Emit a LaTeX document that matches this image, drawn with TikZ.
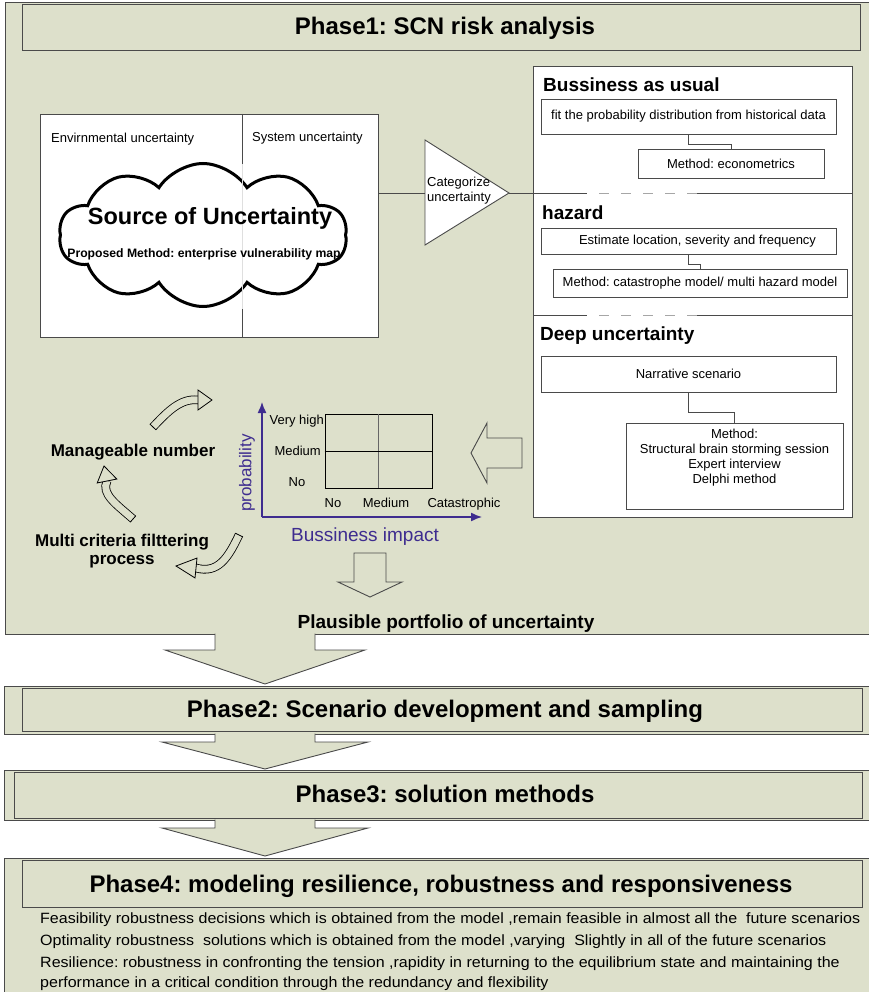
\documentclass[tikz,border=0pt]{standalone}
\usepackage{fontspec}
\setmainfont{Liberation Sans}
\newfontfamily\widesans[FakeStretch=1.075]{Liberation Sans}
\usetikzlibrary{shapes.symbols,calc,arrows.meta}
\frenchspacing

\definecolor{panel}{HTML}{DDE0CB}
\definecolor{edge}{HTML}{4A4A4A}
\definecolor{axis}{HTML}{3E2C8F}

\tikzset{
  panelbox/.style={draw=edge, fill=panel, line width=0.9pt},
  whitebox/.style={draw=edge, fill=white, line width=0.9pt, inner sep=0pt},
  stepbox/.style={draw=edge, fill=white, line width=0.9pt, inner sep=0pt,
    font=\fontsize{13}{15}\selectfont},
  thinline/.style={draw=edge, line width=0.9pt},
  hollow/.style={draw=edge, fill=panel, line width=0.9pt, line join=miter},
  band/.style={draw=black, line width=0.8pt, double=panel, double distance=7pt},
  phasefont/.style={font=\fontsize{24}{28}\selectfont\bfseries},
  headfont/.style={font=\fontsize{19}{22}\selectfont\bfseries},
  smallfont/.style={font=\fontsize{13}{15}\selectfont},
  labelfont/.style={font=\fontsize{17}{18}\selectfont\bfseries},
  bodyfont/.style={font=\widesans\fontsize{14.9}{21}\selectfont},
}

% curved block arrow: tail, control 1, control 2, head base, tip
\newcommand\bendarrow[5]{%
  \draw[band] (#1) .. controls (#2) and (#3) .. (#4);
  \draw[line width=0.8pt] ($(#1)!4.3pt!90:(#2)$) -- ($(#1)!4.3pt!-90:(#2)$);
  \filldraw[fill=panel, draw=black, line width=0.8pt, line join=miter]
    ($(#4)!10pt!90:(#5)$) -- (#5) -- ($(#4)!10pt!-90:(#5)$) -- cycle;
}

\begin{document}
\begin{tikzpicture}[x=1pt,y=-1pt]
\useasboundingbox (0,0) rectangle (868,992);

% ---------------- Phase 1 panel ----------------
\path[panelbox] (5,2) rectangle (880,634);
\path[panelbox] (22,4) rectangle (860,50);
\node[phasefont, anchor=base] (p1) at (445,35) {Phase1: SCN risk analysis};

% sources of uncertainty
\node[whitebox, minimum width=338pt, minimum height=223pt] (lbox) at (209,225.5) {};
\draw[thinline] (242,114) -- (242,337);
\node[smallfont, anchor=base west, inner sep=0] (envl) at (51,143) {Envirnmental uncertainty};
\node[smallfont, anchor=base west, inner sep=0] (sysl) at (252,142) {System uncertainty};
\node[cloud, cloud puffs=10, cloud puff arc=115, aspect=2, draw=black, fill=white,
      line width=3pt, minimum width=288pt, minimum height=143pt, inner sep=0] (src) at (203,235) {};
\draw[gray!25, line width=0.9pt] (242,164) -- (242,309);
\node[font=\fontsize{23.5}{26}\selectfont\bfseries, anchor=base, inner sep=0] (srct) at (210,225) {Source of Uncertainty};
\node[font=\fontsize{12.2}{14}\selectfont\bfseries, anchor=base, inner sep=0] (srcm) at (204,257) {Proposed Method: enterprise vulnerability map};

% categorize
\coordinate (catT) at (425,140);
\coordinate (catB) at (425,245);
\coordinate (catTip) at (509,193);
\coordinate (catW) at (425,193);
\draw[whitebox] (catT) -- (catTip) -- (catB) -- cycle;
\draw[thinline] (lbox.east |- catW) -- (catW);
\node[smallfont, anchor=base west, inner sep=0] (catl1) at (427,187) {Categorize};
\node[smallfont, anchor=base west, inner sep=0] (catl2) at (427,202) {uncertainty};

% categories panel
\node[whitebox, minimum width=319pt, minimum height=451pt] (rpanel) at (692.5,291.5) {};
\draw[thinline] (catTip) -- (rpanel.west |- catTip);
\draw[thinline] (533,193) -- (587,193);
\draw[gray!70, line width=0.9pt, dash pattern=on 10pt off 12pt, dash phase=-12pt] (587,193) -- (697,193);
\draw[thinline] (697,193) -- (852,193);
\draw[thinline] (533,315) -- (587,315);
\draw[gray!70, line width=0.9pt, dash pattern=on 10pt off 12pt, dash phase=-12pt] (587,315) -- (697,315);
\draw[thinline] (697,315) -- (852,315);

\node[headfont, anchor=base west, inner sep=0] (h1) at (543,92) {Bussiness as usual};
\node[headfont, anchor=base west, inner sep=0] (h2) at (542,219) {hazard};
\node[headfont, anchor=base west, inner sep=0] (h3) at (540,340) {Deep uncertainty};

\node[stepbox, minimum width=295pt, minimum height=35pt] (b1) at (688.5,116.5) {fit the probability distribution from historical data};
\node[stepbox, minimum width=186pt, minimum height=29pt] (b2) at (731,163.5) {Method: econometrics};
\draw[thinline] (b1.south) -- ++(0,10) -| (b2.north);

\node[stepbox, minimum width=295pt, minimum height=26pt] (b3) at (688.5,241) {\hspace*{18pt}Estimate location, severity and frequency};
\node[stepbox, minimum width=294pt, minimum height=28pt] (b4) at (700,283) {Method: catastrophe model/ multi hazard model};
\draw[thinline] (b3.south) -- ++(0,10) -| (b4.north);

\node[stepbox, minimum width=295pt, minimum height=36pt] (b5) at (688.5,374) {Narrative scenario};
\node[stepbox, minimum width=217pt, minimum height=86pt] (b6) at (734.5,466) {};
\node[smallfont, anchor=north, inner sep=0, align=center] (b6t) at (734.5,429)
  {Method:\\Structural brain storming session\\Expert interview\\Delphi method};
\draw[thinline] (b5.south) -- ++(0,20) -| (b6.north);

% arrow from categories to the matrix
\path[hollow] (522,438) -- (487,438) -- (487,423) -- (471,453) -- (487,483) -- (487,468) -- (522,468) -- cycle;

% probability / impact matrix
\coordinate (org) at (262,517);
\draw[axis, line width=1.4pt, -{Latex[length=11pt,width=9pt]}] (org) -- (262,402);
\draw[axis, line width=1.4pt, -{Latex[length=11pt,width=9pt]}] (org) -- (482,517);
\node[draw=black, line width=0.9pt, minimum width=107pt, minimum height=74pt, inner sep=0] (grid) at (378.5,451) {};
\draw[draw=gray!80!black, line width=1.1pt] (grid.north) -- (grid.south);
\draw[line width=0.9pt] (grid.west) -- (grid.east);
\node[smallfont, anchor=base east, inner sep=0] (vh) at (324,424) {Very high};
\node[smallfont, anchor=base east, inner sep=0] (vm) at (321,455) {Medium};
\node[smallfont, anchor=base, inner sep=0] (vn) at (297,486) {No};
\node[smallfont, anchor=base, inner sep=0] (hn) at (333,507) {No};
\node[smallfont, anchor=base, inner sep=0] (hm) at (386,507) {Medium};
\node[smallfont, anchor=base, inner sep=0] (hc) at (464,507) {Catastrophic};
\node[font=\fontsize{17}{18}\selectfont, text=axis, rotate=90, inner sep=0] (py) at (247,473) {probability};
\node[font=\fontsize{19}{22}\selectfont, text=axis, anchor=base, inner sep=0] (px) at (365,541) {Bussiness impact};

% arrow down to the portfolio
\path[hollow] (354,553) -- (386,553) -- (386,582) -- (402,582) -- (370,597) -- (338,582) -- (354,582) -- cycle;
\node[headfont, anchor=base, inner sep=0] (port) at (446,628) {Plausible portfolio of uncertainty};

% filtering cycle
\node[labelfont, anchor=base, inner sep=0] (mn) at (133,456) {Manageable number};
\node[labelfont, anchor=base, inner sep=0] (mc1) at (122,546) {Multi criteria filttering};
\node[labelfont, anchor=base, inner sep=0] (mc2) at (122,564) {process};
\bendarrow{153,427}{168,411}{181,398}{198,400}{212,400}
\bendarrow{133,519}{116,504}{101,494}{107,481}{104,466}
\bendarrow{239,535}{228,558}{218,574}{196,568}{176,566}

% ---------------- Phase 2 ----------------
\path[hollow] (215,633.5) -- (215,650) -- (165,650) -- (265,684) -- (365,650) -- (315,650) -- (315,633.5);
\path[panelbox] (4,686) rectangle (880,734);
\path[panelbox] (22,688) rectangle (862,731);
\node[phasefont, anchor=base] (p2) at (445,717) {Phase2: Scenario development and sampling};

% ---------------- Phase 3 ----------------
\path[hollow] (215,733.5) -- (215,742) -- (162,742) -- (265,769) -- (368,742) -- (315,742) -- (315,733.5);
\path[panelbox] (4,770) rectangle (880,820);
\path[panelbox] (14,772) rectangle (862,818);
\node[phasefont, anchor=base] (p3) at (445,802) {Phase3: solution methods};

% ---------------- Phase 4 ----------------
\path[hollow] (215,819.5) -- (215,828) -- (162,828) -- (265,856) -- (368,828) -- (315,828) -- (315,819.5);
\path[panelbox] (4,858) rectangle (880,1000);
\path[panelbox] (22,860) rectangle (862,907);
\node[phasefont, anchor=base] (p4) at (441,892) {Phase4: modeling resilience, robustness and responsiveness};

\node[bodyfont, anchor=base west, inner sep=0] (t1) at (40,923) {Feasibility robustness decisions which is obtained from the model ,remain feasible in almost all the\ \ future scenarios};
\node[bodyfont, anchor=base west, inner sep=0] (t2) at (40,945) {Optimality robustness\ \ solutions which is obtained from the model ,varying\ \ Slightly in all of the future scenarios};
\node[bodyfont, anchor=base west, inner sep=0] (t3) at (40,967) {Resilience: robustness in confronting the tension ,rapidity in returning to the equilibrium state and maintaining the};
\node[bodyfont, anchor=base west, inner sep=0] (t4) at (40,987) {performance in a critical condition through the redundancy and flexibility};

\end{tikzpicture}
\end{document}
